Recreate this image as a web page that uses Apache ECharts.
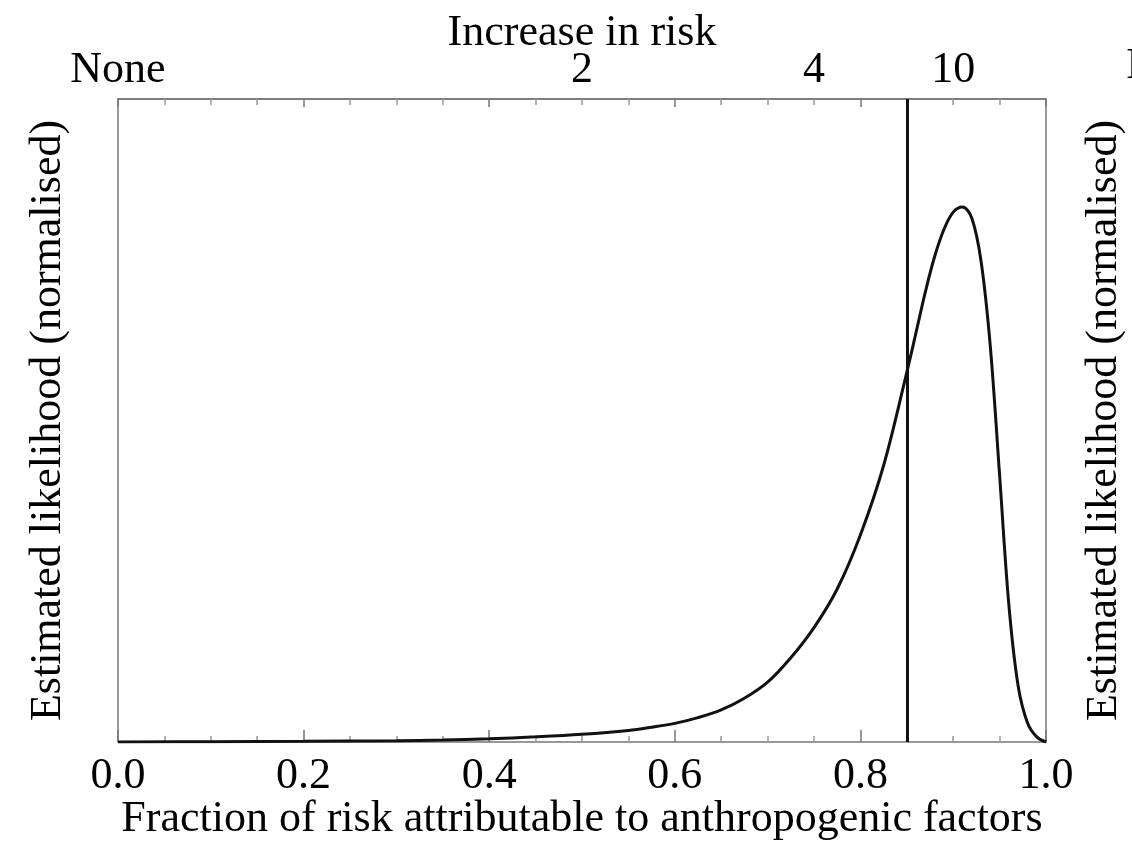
<!DOCTYPE html>
<html>
<head>
<meta charset="utf-8">
<script src="https://cdn.jsdelivr.net/npm/echarts@6/dist/echarts.min.js"></script>
<style>
html,body{margin:0;padding:0;background:#fff;}
#chart{width:1132px;height:844px;}
</style>
</head>
<body>
<div id="chart"></div>
<script>
// Fraction of risk attributable (x) and normalised likelihood (y)
var fraction = [0.0, 0.1, 0.2, 0.3, 0.35, 0.4, 0.45, 0.5, 0.55, 0.575, 0.6, 0.625, 0.65, 0.675, 0.7, 0.725, 0.75, 0.775, 0.8, 0.825, 0.85, 0.86, 0.87, 0.88, 0.89, 0.9, 0.91, 0.92, 0.93, 0.94, 0.95, 0.96, 0.97, 0.98, 0.99, 1.0];
var likelihood = [0.0, 0.0005, 0.001, 0.002, 0.003, 0.005, 0.008, 0.012, 0.018, 0.023, 0.029, 0.038, 0.05, 0.068, 0.093, 0.131, 0.178, 0.238, 0.322, 0.43, 0.575, 0.637, 0.70, 0.755, 0.797, 0.824, 0.832, 0.815, 0.748, 0.615, 0.415, 0.213, 0.087, 0.03, 0.008, 0.0];
var thresholdFraction = 0.855;
// Top axis: increase in risk labels at fraction = 1 - 1/ratio
var topTickValues = [0, 0.5, 0.75, 0.9];
var topTickLabels = ['None', '2', '4', '10'];
var topOffLabel = 'Inf';

var FONT = 'Liberation Serif';
var chart = echarts.init(document.getElementById('chart'));
var pts = fraction.map(function (f, i) { return [f, likelihood[i]]; });

var axisLineStyle = { color: '#777', width: 1.5 };
chart.setOption({
  backgroundColor: '#fff',
  animation: false,
  grid: { left: 118, right: 86, top: 99, bottom: 102, containLabel: false, outerBoundsMode: 'none' },
  xAxis: [{
    type: 'value', position: 'bottom', min: 0, max: 1, interval: 0.2,
    name: 'Fraction of risk attributable to anthropogenic factors',
    nameLocation: 'middle', nameGap: 55, nameMoveOverlap: false,
    nameTextStyle: { fontFamily: FONT, fontSize: 44, color: '#000' },
    axisLine: { show: true, onZero: false, lineStyle: axisLineStyle },
    axisTick: { show: true, inside: true, length: 12, lineStyle: { color: '#777', width: 1.5 } },
    minorTick: { show: true, splitNumber: 4, length: 6, lineStyle: { color: '#999', width: 1.5 } },
    axisLabel: { fontFamily: FONT, fontSize: 44, color: '#000', margin: 12,
      formatter: function (v) { return v.toFixed(1); } },
    splitLine: { show: false }
  }, {
    type: 'value', position: 'top', min: 0, max: 1, interval: 0.2,
    name: 'Increase in risk', nameLocation: 'middle', nameGap: 44, nameMoveOverlap: false,
    nameTextStyle: { fontFamily: FONT, fontSize: 44, color: '#000' },
    axisLine: { show: true, onZero: false, lineStyle: { color: '#555', width: 1.5 } },
    axisTick: { show: true, inside: true, length: 8, lineStyle: { color: '#777', width: 1.5 } },
    minorTick: { show: true, splitNumber: 4, length: 6, lineStyle: { color: '#999', width: 1.5 } },
    axisLabel: { fontFamily: FONT, fontSize: 44, color: '#000', margin: 7,
      customValues: topTickValues,
      formatter: function (v) {
        for (var i = 0; i < topTickValues.length; i++) {
          if (Math.abs(v - topTickValues[i]) < 1e-6) return topTickLabels[i];
        }
        return '';
      } },
    splitLine: { show: false }
  }],
  yAxis: [{
    type: 'value', position: 'left', min: 0, max: 1,
    name: 'Estimated likelihood (normalised)', nameLocation: 'middle', nameGap: 48, nameMoveOverlap: false,
    nameTextStyle: { fontFamily: FONT, fontSize: 44, color: '#000' },
    axisLine: { show: true, onZero: false, lineStyle: axisLineStyle },
    axisTick: { show: false }, axisLabel: { show: false }, splitLine: { show: false }
  }, {
    type: 'value', position: 'right', min: 0, max: 1,
    name: 'Estimated likelihood (normalised)', nameLocation: 'middle', nameGap: 36, nameMoveOverlap: false,
    nameRotate: 90,
    nameTextStyle: { fontFamily: FONT, fontSize: 44, color: '#000' },
    axisLine: { show: true, onZero: false, lineStyle: axisLineStyle },
    axisTick: { show: false }, axisLabel: { show: false }, splitLine: { show: false }
  }],
  graphic: [{
    type: 'text', left: 1126, top: 44,
    style: { text: topOffLabel, fontFamily: FONT, fontSize: 44, fill: '#000' }
  }],
  series: [{
    type: 'line', xAxisIndex: 0, yAxisIndex: 0, data: pts,
    showSymbol: false, smooth: 0.35,
    lineStyle: { color: '#111', width: 3 },
    markLine: {
      silent: true, symbol: ['none', 'none'], label: { show: false },
      lineStyle: { color: '#111', width: 3, type: 'solid' },
      data: [{ xAxis: thresholdFraction }]
    }
  }]
});
</script>
</body>
</html>
